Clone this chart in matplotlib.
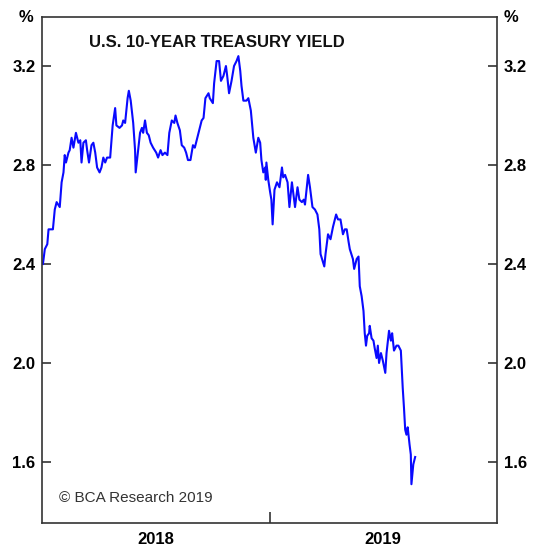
import numpy as np
import pandas as pd
import matplotlib
matplotlib.use('Agg')
import matplotlib.pyplot as plt
import matplotlib.dates as mdates

plt.rcParams['font.family'] = ['Liberation Sans', 'DejaVu Sans']

# days since 2018-01-01
days = [1, 4, 8, 10, 17, 20, 23, 28, 31, 34, 36, 38, 42, 44, 47, 50, 54, 58, 61, 63,
        66, 70, 72, 75, 79, 82, 85, 88, 92, 95, 98, 101, 104, 109, 113, 117, 119, 124, 128, 130,
        133, 137, 139, 142, 146, 149, 150, 154, 157, 160, 162, 165, 168, 171, 174, 178, 183, 186, 190, 193,
        197, 201, 204, 208, 212, 214, 217, 221, 224, 228, 231, 234, 238, 242, 245, 248, 252, 256, 259, 262,
        267, 269, 274, 276, 280, 284, 287, 291, 295, 297, 300, 304, 308, 312, 315, 318, 320, 323, 328, 331,
        335, 339, 343, 347, 350, 352, 355, 358, 359, 360, 363, 366, 368, 370, 373, 377, 381, 385, 387, 390,
        394, 397, 401, 403, 406, 410, 413, 417, 420, 422, 425, 427, 430, 434, 438, 442, 445, 447, 453, 455,
        459, 463, 467, 472, 475, 479, 483, 486, 489, 492, 494, 499, 501, 505, 508, 510, 513, 516, 518, 520,
        522, 525, 526, 529, 532, 534, 537, 539, 541, 544, 547, 551, 553, 557, 560, 562, 565, 569, 572, 576,
        579, 581, 583, 585, 587, 590, 592, 593, 596, 599]
yields = [2.40, 2.46, 2.48, 2.54, 2.54, 2.62, 2.65, 2.63, 2.73, 2.77, 2.84, 2.81, 2.85, 2.86, 2.91, 2.87, 2.93, 2.89, 2.90, 2.81,
          2.89, 2.90, 2.86, 2.81, 2.88, 2.89, 2.85, 2.79, 2.77, 2.79, 2.83, 2.81, 2.83, 2.83, 2.96, 3.03, 2.96, 2.95, 2.96, 2.98,
          2.97, 3.07, 3.10, 3.06, 2.97, 2.86, 2.77, 2.86, 2.93, 2.95, 2.93, 2.98, 2.93, 2.92, 2.89, 2.87, 2.85, 2.83, 2.86, 2.84,
          2.85, 2.84, 2.93, 2.98, 2.97, 3.00, 2.97, 2.94, 2.88, 2.87, 2.85, 2.82, 2.82, 2.88, 2.87, 2.90, 2.94, 2.98, 2.99, 3.07,
          3.09, 3.07, 3.05, 3.13, 3.22, 3.22, 3.14, 3.16, 3.20, 3.16, 3.09, 3.14, 3.20, 3.22, 3.24, 3.18, 3.12, 3.06, 3.06, 3.07,
          3.02, 2.91, 2.85, 2.91, 2.89, 2.82, 2.77, 2.79, 2.74, 2.81, 2.74, 2.69, 2.66, 2.56, 2.70, 2.73, 2.71, 2.79, 2.75, 2.76,
          2.73, 2.63, 2.73, 2.69, 2.63, 2.71, 2.66, 2.65, 2.66, 2.64, 2.71, 2.76, 2.71, 2.63, 2.62, 2.60, 2.54, 2.44, 2.39, 2.44,
          2.52, 2.50, 2.55, 2.60, 2.58, 2.58, 2.52, 2.54, 2.54, 2.49, 2.46, 2.42, 2.38, 2.42, 2.43, 2.31, 2.27, 2.21, 2.12, 2.07,
          2.11, 2.12, 2.15, 2.10, 2.09, 2.06, 2.02, 2.07, 2.00, 2.04, 2.01, 1.96, 2.04, 2.13, 2.09, 2.12, 2.05, 2.07, 2.07, 2.05,
          1.90, 1.82, 1.73, 1.71, 1.74, 1.67, 1.63, 1.51, 1.59, 1.62]

year_labels = ['2018', '2019']
y_ticks = [1.6, 2.0, 2.4, 2.8, 3.2]

dates = pd.Timestamp('2018-01-01') + pd.to_timedelta(days, unit='D')

fig = plt.figure(figsize=(5.33, 5.48), dpi=100)
ax = fig.add_axes([0.0794, 0.0464, 0.8525, 0.9221])
ax.plot(dates, yields, color='#0a0aff', lw=1.5)

ax.set_xlim(pd.Timestamp('2018-01-01'), pd.Timestamp('2020-01-01'))
ax.set_ylim(1.355, 3.397)

# axes frame
for s in ax.spines.values():
    s.set_color('#333333')
    s.set_linewidth(1.2)

# y axis on both sides, ticks pointing in
ax.set_yticks(y_ticks)
ax.set_yticklabels(['%.1f' % v for v in y_ticks])
ax.tick_params(axis='y', direction='in', length=6.5, width=1.2, color='#333333',
               left=True, right=True, labelleft=True, labelright=True,
               labelsize=12, pad=5)
for lab in ax.get_yticklabels():
    lab.set_fontweight('bold')

# x axis: one tick at year change, labels in the middle of each year
ax.set_xticks([pd.Timestamp('2019-01-01')])
ax.set_xticklabels([''])
ax.set_xticks([pd.Timestamp('2018-07-02'), pd.Timestamp('2019-07-02')], minor=True)
ax.set_xticklabels(year_labels, minor=True, fontweight='bold', fontsize=12)
ax.tick_params(axis='x', which='major', direction='in', length=8, width=1.2, color='#333333')
ax.tick_params(axis='x', which='minor', length=0, pad=6.5)

ax.text(0.1034, 0.951, 'U.S. 10-YEAR TREASURY YIELD', transform=ax.transAxes,
        fontsize=12, fontweight='bold', va='center', ha='left', color='#111111')
ax.text(0.0374, 0.049, '\u00a9 BCA Research 2019', transform=ax.transAxes,
        fontsize=11, va='center', ha='left', color='#333333')

fig.text(26 / 533, 1 - 18 / 548, '%', fontsize=12, fontweight='bold', ha='center', va='center')
fig.text(511 / 533, 1 - 18 / 548, '%', fontsize=12, fontweight='bold', ha='center', va='center')

fig.savefig('out.png', dpi=100)
